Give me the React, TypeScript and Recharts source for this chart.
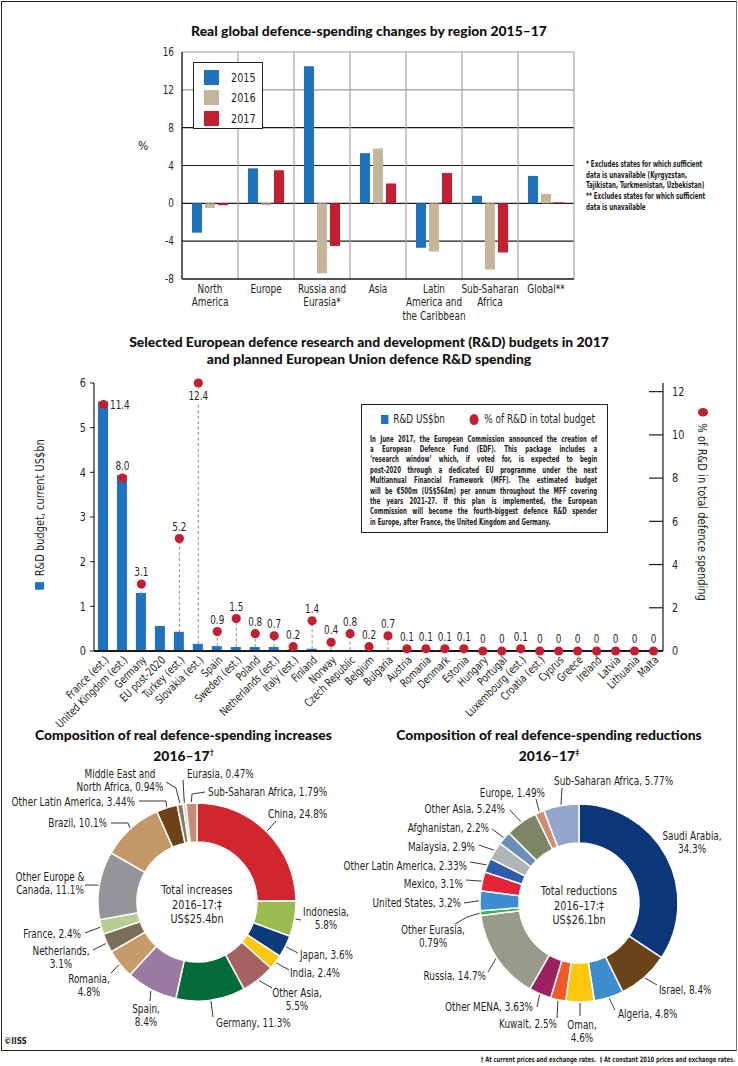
import React from 'react';
import {
  BarChart, Bar, XAxis, YAxis, CartesianGrid, ComposedChart, Scatter, ErrorBar,
  PieChart, Pie, Cell,
} from 'recharts';

const FONT_C = "'DejaVu Sans Condensed', 'DejaVu Sans', sans-serif";
const FONT_T = "Lato, 'Open Sans', sans-serif";
const INK = '#231f20';
const SX = 0.86;

// ---------- Chart 1: regional changes ----------
const regions = ['North America', 'Europe', 'Russia and Eurasia*', 'Asia', 'Latin America and the Caribbean', 'Sub-Saharan Africa', 'Global**'];
const regionLabelLines = [['North', 'America'], ['Europe'], ['Russia and', 'Eurasia*'], ['Asia'], ['Latin', 'America and', 'the Caribbean'], ['Sub-Saharan', 'Africa'], ['Global**']];
const change2015 = [-3.1, 3.7, 14.5, 5.3, -4.7, 0.8, 2.9];
const change2016 = [-0.5, -0.2, -7.4, 5.8, -5.1, -7.0, 1.0];
const change2017 = [-0.2, 3.5, -4.5, 2.1, 3.2, -5.2, 0.1];
const changeTicks = [-8, -4, 0, 4, 8, 12, 16];
const yearNames = ['2015', '2016', '2017'];
const yearColors = ['#1f73be', '#c4b59b', '#c1202f'];

// ---------- Chart 2: R&D budgets ----------
const rdCountries = ['France (est.)', 'United Kingdom (est.)', 'Germany', 'EU post-2020', 'Turkey (est.)', 'Slovakia (est.)', 'Spain', 'Sweden (est.)', 'Poland', 'Netherlands (est.)', 'Italy (est.)', 'Finland', 'Norway', 'Czech Republic', 'Belgium', 'Bulgaria', 'Austria', 'Romania', 'Denmark', 'Estonia', 'Hungary', 'Portugal', 'Luxembourg (est.)', 'Croatia (est.)', 'Cyprus', 'Greece', 'Ireland', 'Latvia', 'Lithuania', 'Malta'];
const rdBudget = [5.58, 3.94, 1.3, 0.56, 0.43, 0.16, 0.11, 0.09, 0.09, 0.09, 0.04, 0.05, 0.02, 0.02, 0.01, 0.02, 0.01, 0.01, 0.01, 0.01, 0, 0, 0, 0, 0, 0, 0, 0, 0, 0];
const rdShare: (number | null)[] = [11.4, 8.0, 3.1, null, 5.2, 12.4, 0.9, 1.5, 0.8, 0.7, 0.2, 1.4, 0.4, 0.8, 0.2, 0.7, 0.1, 0.1, 0.1, 0.1, 0, 0, 0.1, 0, 0, 0, 0, 0, 0, 0];
const rdTicks = [0, 1, 2, 3, 4, 5, 6];
const shareTicks = [0, 2, 4, 6, 8, 10, 12];
const RD_DOMAIN = [0, 6];
const SHARE_DOMAIN = [0, 12];

const edfText = [
  'In June 2017, the European Commission announced the creation of',
  'a European Defence Fund (EDF). This package includes a',
  '‘research window’ which, if voted for, is expected to begin',
  'post-2020 through a dedicated EU programme under the next',
  'Multiannual Financial Framework (MFF). The estimated budget',
  'will be €500m (US$564m) per annum throughout the MFF covering',
  'the years 2021–27. If this plan is implemented, the European',
  'Commission will become the fourth-biggest defence R&D spender',
  'in Europe, after France, the United Kingdom and Germany.',
];

// ---------- Chart 3: increases ----------
const incNames = ['China', 'Indonesia', 'Japan', 'India', 'Other Asia', 'Germany', 'Spain', 'Romania', 'Netherlands', 'France', 'Other Europe & Canada', 'Brazil', 'Other Latin America', 'Middle East and North Africa', 'Eurasia', 'Sub-Saharan Africa'];
const incValues = [24.8, 5.8, 3.6, 2.4, 5.5, 11.3, 8.4, 4.8, 3.1, 2.4, 11.1, 10.1, 3.44, 0.94, 0.47, 1.79];
const incColors = ['#d0262e', '#9bbb50', '#0d3a7b', '#fdc810', '#a66262', '#036a39', '#9b7aa1', '#c79b69', '#7a6e56', '#b7cd92', '#949598', '#c39766', '#6b4317', '#8c7b5b', '#c8c9cb', '#c98b74'];

// ---------- Chart 4: reductions ----------
const redNames = ['Saudi Arabia', 'Israel', 'Algeria', 'Oman', 'Kuwait', 'Other MENA', 'Russia', 'Other Eurasia', 'United States', 'Mexico', 'Other Latin America', 'Malaysia', 'Afghanistan', 'Other Asia', 'Europe', 'Sub-Saharan Africa'];
const redValues = [34.3, 8.4, 4.8, 4.6, 2.5, 3.63, 14.7, 0.79, 3.2, 3.1, 2.33, 2.9, 2.2, 5.24, 1.49, 5.77];
const redColors = ['#0b3679', '#6b4319', '#3d8ccc', '#fdc70f', '#f05a29', '#9d2063', '#999a89', '#3bb54b', '#3b8dd0', '#e62337', '#2b5daa', '#b3b4b6', '#6c8fb8', '#7c8566', '#d08b71', '#93a4cd'];

// label layout (page coordinates), separate from data
type LabelLayout = { wrap?: string; anchor: 'start' | 'middle' | 'end'; tx: number; ty: number; ex?: number; ey?: number; bx?: number; by?: number };
const INC_CENTER = { x: 197, y: 902 };
const incLayout: LabelLayout[] = [
  { anchor: 'start', tx: 268, ty: 814, ex: 276, ey: 821 },
  { wrap: 'Indonesia,', anchor: 'middle', tx: 326, ty: 912, ex: 301, ey: 920 },
  { anchor: 'start', tx: 300, ty: 955, ex: 298, ey: 953 },
  { anchor: 'start', tx: 290, ty: 973, ex: 289, ey: 970 },
  { wrap: 'Other Asia,', anchor: 'middle', tx: 297, ty: 993, ex: 272, ey: 988 },
  { anchor: 'start', tx: 216, ty: 1023, ex: 213, ey: 1017 },
  { wrap: 'Spain,', anchor: 'middle', tx: 146, ty: 1009, ex: 150, ey: 1001 },
  { wrap: 'Romania,', anchor: 'middle', tx: 89, ty: 979, ex: 111, ey: 973 },
  { wrap: 'Netherlands,', anchor: 'middle', tx: 61, ty: 951, ex: 93, ey: 950 },
  { anchor: 'end', tx: 81, ty: 934, ex: 85, ey: 933 },
  { wrap: 'Other Europe &', anchor: 'middle', tx: 50, ty: 877, ex: 85, ey: 885 },
  { anchor: 'end', tx: 107, ty: 823, bx: 128, by: 823, ex: 111, ey: 823 },
  { anchor: 'end', tx: 135, ty: 802, bx: 166, by: 801, ex: 139, ey: 801 },
  { wrap: 'Middle East and', anchor: 'middle', tx: 120, ty: 774, bx: 176, by: 788, ex: 166, ey: 782 },
  { anchor: 'start', tx: 187, ty: 774, ex: 183, ey: 780 },
  { anchor: 'start', tx: 208, ty: 792, bx: 192, by: 794, ex: 205, ey: 792 },
];
const RED_CENTER = { x: 579, y: 903 };
const redLayout: LabelLayout[] = [
  { wrap: 'Saudi Arabia,', anchor: 'middle', tx: 692, ty: 836 },
  { anchor: 'start', tx: 659, ty: 990, ex: 657, ey: 985 },
  { anchor: 'start', tx: 618, ty: 1014, ex: 615, ey: 1010 },
  { wrap: 'Oman,', anchor: 'middle', tx: 582, ty: 1025, ex: 580, ey: 1016 },
  { anchor: 'end', tx: 557, ty: 1024, ex: 557, ey: 1018 },
  { anchor: 'end', tx: 533, ty: 1007, ex: 537, ey: 1007 },
  { anchor: 'end', tx: 486, ty: 976, ex: 488, ey: 972 },
  { wrap: 'Other Eurasia,', anchor: 'middle', tx: 433, ty: 930, bx: 467, by: 917, ex: 455, ey: 924 },
  { anchor: 'end', tx: 461, ty: 903, ex: 464, ey: 903 },
  { anchor: 'end', tx: 463, ty: 884, ex: 466, ey: 880 },
  { anchor: 'end', tx: 467, ty: 866, ex: 470, ey: 862 },
  { anchor: 'end', tx: 475, ty: 847, ex: 479, ey: 845 },
  { anchor: 'end', tx: 489, ty: 828, ex: 492, ey: 829 },
  { anchor: 'end', tx: 505, ty: 809, ex: 510, ey: 810 },
  { anchor: 'end', tx: 545, ty: 793, ex: 536, ey: 799 },
  { anchor: 'start', tx: 554, ty: 781, ex: 562, ey: 788 },
];

// ---------- helpers ----------
type Anchor = 'start' | 'middle' | 'end';
function CT(p: { x: number; y: number; lines: string[]; anchor?: Anchor; size?: number; lh?: number; dy0?: string | number; rotate?: number; sx?: number; weight?: number }) {
  const { x, y, lines, anchor = 'start', size = 11.5, lh = 13, dy0 = '0.35em', rotate = 0, sx = SX, weight } = p;
  return (
    <text transform={`translate(${x},${y}) rotate(${rotate}) scale(${sx},1)`} textAnchor={anchor} fontSize={size} fontFamily={FONT_C} fill={INK} fontWeight={weight}>
      {lines.map((l, i) => (
        <tspan key={i} x={0} dy={i === 0 ? dy0 : lh}>{l}</tspan>
      ))}
    </text>
  );
}

const Squeeze = ({ s = SX, origin = 'left center', children, style }: { s?: number; origin?: string; children: React.ReactNode; style?: React.CSSProperties }) => (
  <div style={{ transform: `scaleX(${s})`, transformOrigin: origin, ...style }}>{children}</div>
);

const RegionTick = (props: any) => {
  const { x, y, payload } = props;
  const idx = regions.indexOf(payload.value);
  const lines = idx >= 0 ? regionLabelLines[idx] : [String(payload.value)];
  return <CT x={x} y={y} anchor="middle" lines={lines} dy0={6} lh={13.3} size={11.5} />;
};

const LeftTick = (props: any) => {
  const { x, y, payload, fs } = props;
  return <CT x={x} y={y} anchor="end" lines={[String(payload.value)]} size={fs || 11.5} />;
};

const CountryTick = (props: any) => {
  const { x, y, payload } = props;
  return <CT x={x + 3} y={y - 1} anchor="end" rotate={-45} lines={[String(payload.value)]} size={11.3} />;
};

const RightTick = (props: any) => {
  const { x, y, payload } = props;
  return (
    <g>
      {payload.value !== 0 && <line x1={x - 14} x2={x} y1={y} y2={y} stroke="#1a1a1a" strokeWidth={1.2} />}
      <CT x={x + 9} y={y} lines={[String(payload.value)]} size={12.5} />
    </g>
  );
};

const fmtShare = (v: number) => (v === 0 ? '0' : v.toFixed(1));

const ShareDot = (props: any) => {
  const { cx, cy, payload } = props;
  if (!payload || payload.pct == null || cx == null || cy == null || isNaN(cx) || isNaN(cy)) return <g />;
  const v: number = payload.pct;
  let tx = cx, ty = cy - 12, anchor: Anchor = 'middle';
  const top = v >= SHARE_DOMAIN[1];
  if (payload.country === rdCountries[0]) { tx = cx + 6.5; ty = cy + 0.5; anchor = 'start'; }
  else if (top) { ty = cy + 12.5; }
  return (
    <g>
      {top && <rect x={cx - 10} y={cy + 6} width={20} height={14} fill="#fff" />}
      <circle cx={cx} cy={cy} r={4.6} fill="#c41f30" />
      <CT x={tx} y={ty} anchor={anchor} lines={[fmtShare(v)]} size={11.5} />
    </g>
  );
};

const shareScale = (SHARE_DOMAIN[1] - SHARE_DOMAIN[0]) / (RD_DOMAIN[1] - RD_DOMAIN[0]);
const dropLine = (p: any) => {
  const d = p && p.payload ? p.payload : p;
  if (!d || d.pct == null) return null;
  const low = d.pct - d.rd * shareScale;
  return low > 0 ? [low, 0] : null;
};

function makePieLabel(layout: LabelLayout[], center: { x: number; y: number }, names: string[], values: number[]) {
  return (props: any) => {
    const { cx, cy, midAngle, outerRadius, index } = props;
    const L = layout[index];
    if (!L) return null;
    const sx = cx - center.x, sy = cy - center.y;
    const full = `${names[index]}, ${values[index]}%`;
    const lines = L.wrap ? [L.wrap, full.slice(L.wrap.length).trim()] : [full];
    const rad = (-midAngle * Math.PI) / 180;
    const r = outerRadius + 1;
    const rx = cx + r * Math.cos(rad), ry = cy + r * Math.sin(rad);
    const pts: number[][] = [[rx, ry]];
    if (L.bx != null && L.by != null) pts.push([L.bx + sx, L.by + sy]);
    if (L.ex != null && L.ey != null) pts.push([L.ex + sx, L.ey + sy]);
    return (
      <g key={`lbl-${index}`}>
        {pts.length > 1 && (
          <polyline points={pts.map((p) => p.join(',')).join(' ')} fill="none" stroke="#231f20" strokeWidth={0.9} />
        )}
        <CT x={L.tx + sx} y={L.ty + sy} anchor={L.anchor} lines={lines} size={11.5} lh={12.5} />
      </g>
    );
  };
}

const boldTitle: React.CSSProperties = { position: 'absolute', fontFamily: FONT_T, fontWeight: 900, fontSize: 13.9, color: '#111', textAlign: 'center', lineHeight: '16.5px', whiteSpace: 'nowrap' };

function RegionChart() {
  const data = regions.map((r, i) => ({ region: r, y2015: change2015[i], y2016: change2016[i], y2017: change2017[i] }));
  const keys = ['y2015', 'y2016', 'y2017'];
  return (
    <div style={{ position: 'absolute', left: 130, top: 40 }}>
      <BarChart width={460} height={290} data={data} margin={{ top: 12, right: 16, bottom: 0, left: 0 }} barGap={3} barSize={10}>
        <CartesianGrid vertical={false} horizontalValues={[12, 16]} stroke="#9a9a9a" strokeWidth={1.2} />
        <CartesianGrid vertical={false} horizontalValues={[-4, 0, 4, 8]} stroke="#1a1a1a" strokeWidth={1.2} />
        <CartesianGrid
          horizontal={false}
          stroke="#a3a3a3"
          strokeWidth={1.2}
          verticalCoordinatesGenerator={(p: any) => {
            const off = p && p.offset ? p.offset : { left: 52, width: 392 };
            const out: number[] = [];
            for (let i = 1; i <= regions.length; i++) out.push(off.left + (off.width * i) / regions.length);
            return out;
          }}
        />
        <XAxis dataKey="region" interval={0} tick={<RegionTick />} tickLine={false} axisLine={{ stroke: '#1a1a1a', strokeWidth: 1.4 }} height={51} />
        <YAxis domain={[-8, 16]} ticks={changeTicks} interval={0} width={52} tickLine={false} axisLine={{ stroke: '#1a1a1a', strokeWidth: 1.4 }} tick={<LeftTick fs={11.5} />} />
        {keys.map((k, i) => (
          <Bar key={k} dataKey={k} name={yearNames[i]} fill={yearColors[i]} isAnimationActive={false} />
        ))}
      </BarChart>
    </div>
  );
}

function RdChart() {
  const data = rdCountries.map((c, i) => ({ country: c, rd: rdBudget[i], pct: rdShare[i] }));
  return (
    <div style={{ position: 'absolute', left: 0, top: 360 }}>
      <ComposedChart width={738} height={380} data={data} margin={{ top: 23, right: 0, bottom: 0, left: 0 }}>
        <XAxis dataKey="country" interval={0} tick={<CountryTick />} tickLine={false} axisLine={{ stroke: '#1a1a1a', strokeWidth: 2 }} height={89} />
        <YAxis yAxisId="rd" domain={RD_DOMAIN} ticks={rdTicks} interval={0} width={94} tickSize={4} tickMargin={4} tickLine={{ stroke: '#1a1a1a' }} axisLine={{ stroke: '#1a1a1a', strokeWidth: 1.2 }} tick={<LeftTick fs={12.5} />} />
        <YAxis yAxisId="pct" orientation="right" domain={SHARE_DOMAIN} ticks={shareTicks} interval={0} width={75} tickSize={0} tickMargin={0} tickLine={false} axisLine={{ stroke: '#1a1a1a', strokeWidth: 1.2 }} tick={<RightTick />} />
        <Bar yAxisId="rd" dataKey="rd" fill="#1f73be" barSize={10} isAnimationActive={false} />
        <Scatter yAxisId="pct" dataKey="pct" shape={(p: any) => <ShareDot {...p} />} isAnimationActive={false}>
          <ErrorBar dataKey={dropLine as any} direction="y" width={0} stroke="#8e8e8e" strokeWidth={1} strokeDasharray="3 2.5" />
        </Scatter>
      </ComposedChart>
    </div>
  );
}

function Donut(props: { names: string[]; values: number[]; colors: string[]; layout: LabelLayout[]; center: { x: number; y: number }; left: number; top: number; width: number; centerLines: string[] }) {
  const { names, values, colors, layout, center, left, top, width, centerLines } = props;
  const data = names.map((n, i) => ({ name: n, value: values[i] }));
  const h = 345;
  return (
    <div style={{ position: 'absolute', left, top, width, height: h }}>
      <PieChart width={width} height={h} margin={{ top: 0, right: 0, bottom: 0, left: 0 }}>
        <Pie
          data={data}
          dataKey="value"
          nameKey="name"
          cx={center.x - left}
          cy={center.y - top}
          innerRadius={60}
          outerRadius={99}
          startAngle={90}
          endAngle={-270}
          stroke="#fff"
          strokeWidth={1.5}
          labelLine={false}
          label={makePieLabel(layout, center, names, values)}
          isAnimationActive={false}
        >
          {data.map((d, i) => (
            <Cell key={d.name} fill={colors[i]} />
          ))}
        </Pie>
      </PieChart>
      <div style={{ position: 'absolute', left: center.x - left - 60, top: center.y - top - 19, width: 120, textAlign: 'center', fontFamily: FONT_C, fontSize: 12.5, lineHeight: '14.5px', color: INK }}>
        <Squeeze origin="center center">
          {centerLines.map((l, i) => (
            <div key={i}>{l}</div>
          ))}
        </Squeeze>
      </div>
    </div>
  );
}

export default function App() {
  return (
    <div style={{ position: 'absolute', left: 0, top: 0, width: 738, height: 1066, background: '#fff', overflow: 'hidden', fontFamily: FONT_C, color: INK }}>
      <div style={{ position: 'absolute', left: 1, top: 1, width: 736, height: 1050, boxSizing: 'border-box', border: '1.5px solid #222', borderRightColor: '#777' }} />

      {/* Chart 1 */}
      <div style={{ ...boldTitle, left: 0, width: 738, top: 23 }}>Real global defence-spending changes by region 2015–17</div>
      <RegionChart />
      <div style={{ position: 'absolute', left: 138, top: 139, fontSize: 12, fontFamily: FONT_C }}>%</div>
      <div style={{ position: 'absolute', left: 193, top: 62, width: 70, height: 67, boxSizing: 'border-box', border: '1.5px solid #222', background: '#fff' }}>
        {yearNames.map((y, i) => (
          <div key={y} style={{ position: 'absolute', left: 10, top: 6 + i * 20.5, display: 'flex', alignItems: 'center', height: 16 }}>
            <div style={{ width: 15, height: 15, background: yearColors[i], flexShrink: 0 }} />
            <Squeeze style={{ marginLeft: 12, fontSize: 12.5, fontFamily: FONT_C }}>{y}</Squeeze>
          </div>
        ))}
      </div>
      <div style={{ position: 'absolute', left: 586, top: 159, fontSize: 8.4, lineHeight: '10.7px', fontWeight: 700, fontFamily: FONT_C, whiteSpace: 'nowrap', color: '#222' }}>
        <Squeeze s={0.74}>
          <div>* Excludes states for which sufficient</div>
          <div>data is unavailable (Kyrgyzstan,</div>
          <div>Tajikistan, Turkmenistan, Uzbekistan)</div>
          <div>** Excludes states for which sufficient</div>
          <div>data is unavailable</div>
        </Squeeze>
      </div>

      {/* Chart 2 */}
      <div style={{ ...boldTitle, left: 0, width: 738, top: 334 }}>
        <div>Selected European defence research and development (R&amp;D) budgets in 2017</div>
        <div>and planned European Union defence R&amp;D spending</div>
      </div>
      <RdChart />
      <div style={{ position: 'absolute', left: 39 - 85, top: 515 - 8, width: 170, height: 16, transform: 'rotate(-90deg)', display: 'flex', alignItems: 'center', justifyContent: 'center' }}>
        <Squeeze s={0.84} origin="center center" style={{ display: 'flex', alignItems: 'center', fontSize: 13, fontFamily: FONT_C, whiteSpace: 'nowrap' }}>
          <div style={{ width: 9, height: 9, background: '#1f73be', marginRight: 7, flexShrink: 0 }} />
          <span>R&amp;D budget, current US$bn</span>
        </Squeeze>
      </div>
      <div style={{ position: 'absolute', left: 703 - 110, top: 504 - 8, width: 220, height: 16, transform: 'rotate(90deg)', display: 'flex', alignItems: 'center', justifyContent: 'center' }}>
        <Squeeze s={0.85} origin="center center" style={{ display: 'flex', alignItems: 'center', fontSize: 13, fontFamily: FONT_C, whiteSpace: 'nowrap' }}>
          <div style={{ width: 10, height: 10, borderRadius: 5, background: '#c41f30', marginRight: 8, flexShrink: 0 }} />
          <span>% of R&amp;D in total defence spending</span>
        </Squeeze>
      </div>
      <div style={{ position: 'absolute', left: 361, top: 404, width: 247, height: 129, boxSizing: 'border-box', border: '1.5px solid #222', background: '#fff' }}>
        <div style={{ position: 'absolute', left: 19, top: 6 }}>
          <Squeeze s={0.82} style={{ display: 'flex', alignItems: 'center', fontSize: 12, fontFamily: FONT_C, whiteSpace: 'nowrap', height: 16 }}>
            <div style={{ width: 9, height: 9, background: '#1f73be', marginRight: 6, flexShrink: 0 }} />
            <span>R&amp;D US$bn</span>
            <div style={{ width: 11, height: 11, borderRadius: 6, background: '#c41f30', marginLeft: 30, marginRight: 7, flexShrink: 0 }} />
            <span>% of R&amp;D in total budget</span>
          </Squeeze>
        </div>
        <div style={{ position: 'absolute', left: 8, top: 28.5 }}>
          <Squeeze s={0.74} style={{ width: 307, fontSize: 8.2, lineHeight: '10.4px', fontWeight: 700, fontFamily: FONT_C, color: '#222' }}>
            {edfText.map((l, i) => {
              const last = i === edfText.length - 1;
              return (
                <div key={i} style={{ textAlign: last ? 'left' : 'justify', textAlignLast: last ? 'left' : 'justify' } as React.CSSProperties}>{l}</div>
              );
            })}
          </Squeeze>
        </div>
      </div>

      {/* Chart 3 & 4 */}
      <div style={{ ...boldTitle, left: 0, width: 367, top: 727 }}>
        <div>Composition of real defence-spending increases</div>
        <div>2016–17<sup style={{ fontSize: 7 }}>†</sup></div>
      </div>
      <div style={{ ...boldTitle, left: 369, width: 360, top: 727 }}>
        <div>Composition of real defence-spending reductions</div>
        <div>2016–17<sup style={{ fontSize: 7 }}>‡</sup></div>
      </div>
      <Donut names={incNames} values={incValues} colors={incColors} layout={incLayout} center={INC_CENTER} left={0} top={700} width={369} centerLines={['Total increases', '2016–17:‡', 'US$25.4bn']} />
      <Donut names={redNames} values={redValues} colors={redColors} layout={redLayout} center={RED_CENTER} left={336} top={700} width={400} centerLines={['Total reductions', '2016–17:‡', 'US$26.1bn']} />

      <div style={{ position: 'absolute', left: 4, top: 1036, fontSize: 9, fontWeight: 700, fontFamily: FONT_C }}>
        <Squeeze s={0.9}>©IISS</Squeeze>
      </div>
      <div style={{ position: 'absolute', right: 3, top: 1055, fontSize: 7.4, fontWeight: 700, fontFamily: FONT_C, whiteSpace: 'nowrap' }}>
        <Squeeze s={0.78} origin="right center">† At current prices and exchange rates.&nbsp; ‡ At constant 2010 prices and exchange rates.</Squeeze>
      </div>
    </div>
  );
}
